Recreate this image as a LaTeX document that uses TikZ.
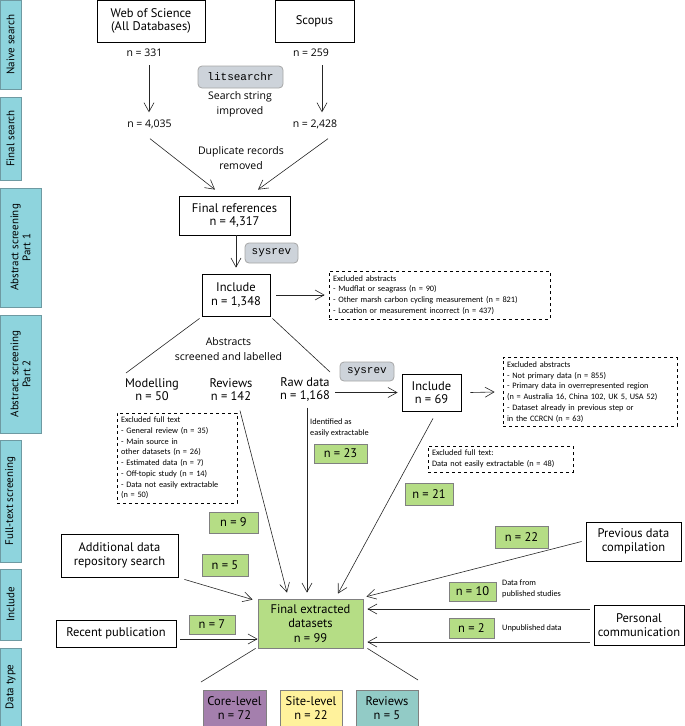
\documentclass[tikz,border=0pt]{standalone}
\usepackage{fontspec}
\setmainfont{Open Sans}
\newfontfamily\hand{PT Sans}
\newfontfamily\code{Liberation Mono}
\newfontfamily\notefont{Carlito}
\usetikzlibrary{arrows.meta}

\definecolor{barfill}{HTML}{8ED4DD}
\definecolor{barline}{HTML}{6E9AA2}
\definecolor{grn}{HTML}{B5DD85}
\definecolor{toolgray}{HTML}{CDD3DA}
\definecolor{corecol}{HTML}{A47FAD}
\definecolor{sitecol}{HTML}{FFF29C}
\definecolor{revcol}{HTML}{92CBC6}

\begin{document}
\begin{tikzpicture}[
			x=1pt, y=-1pt,
			every node/.style={inner sep=0pt, align=center},
			line/.style={line width=0.6pt, black!85},
			arr/.style={line, -{Straight Barb[length=9pt, width=10pt]}},
			box/.style={draw, line width=0.8pt, font=\hand\fontsize{12.5}{13.5}\selectfont},
			gbox/.style={box, draw=black!50, fill=grn},
			tool/.style={draw=black!35, line width=0.8pt, fill=toolgray, rounded corners=4pt, font=\code\fontsize{11}{12}\selectfont},
			xbox/.style={draw, dashed, line width=0.7pt, align=left, inner sep=4pt, font=\notefont\fontsize{8.3}{10.7}\selectfont},
			bar/.style={draw=barline, line width=0.8pt, fill=barfill, rotate=90, font=\hand\fontsize{11}{12}\selectfont},
			txt/.style={font=\fontsize{10.5}{14.5}\selectfont},
			hnd/.style={font=\hand\fontsize{12.5}{13}\selectfont},
			note/.style={align=left, font=\notefont\fontsize{8.3}{10.7}\selectfont}
		]

		\useasboundingbox (0,0) rectangle (685,726);

		% stage bars on the left
		\node[bar, minimum width=89pt, minimum height=21pt] (naive) at (10.5,44.5) {Naive search};
		\node[bar, minimum width=83pt, minimum height=21pt] (fsearch) at (10.5,138.5) {Final search};
		\node[bar, minimum width=119pt, minimum height=41pt] (abs1) at (20.5,247.5) {Abstract screening\\Part 1};
		\node[bar, minimum width=118pt, minimum height=41pt] (abs2) at (20.5,374) {Abstract screening\\Part 2};
		\node[bar, minimum width=122pt, minimum height=21pt] (ftext) at (10.5,501) {Full-text screening};
		\node[bar, minimum width=71pt, minimum height=21pt] (incl) at (10.5,604.5) {Include};
		\node[bar, minimum width=78pt, minimum height=21pt] (dtype) at (10.5,687) {Data type};

		% databases
		\node[box, minimum width=108pt, minimum height=42pt] (wos) at (151,21) {Web of Science\\(All Databases)};
		\node[box, minimum width=79pt, minimum height=42pt] (scopus) at (314.5,21) {Scopus};
		\node[txt] (n331) at (144.5,53) {n = 331};
		\node[txt] (n259) at (311,53) {n = 259};
		\node[tool, minimum width=85pt, minimum height=22pt] (lit) at (240.5,77) {litsearchr};
		\node[txt] (improved) at (240,104.5) {Search string\\improved};
		\node[txt] (n4035) at (149.5,124) {n = 4,035};
		\node[txt] (n2428) at (315,124) {n = 2,428};
		\node[txt] (dup) at (241,158) {Duplicate records\\removed};

		\draw[arr] ([xshift=4.5pt,yshift=-8pt]n331.south) -- ([xshift=-0.5pt,yshift=7pt]n4035.north);
		\draw[arr] ([xshift=11pt,yshift=-8pt]n259.south) -- ([xshift=7pt,yshift=7pt]n2428.north);

		% first screening
		\node[box, minimum width=111pt, minimum height=39pt] (fref) at (234.5,215.5) {Final references\\n = 4,317};
		\draw[arr] ([xshift=0.5pt,yshift=-10pt]n4035.south) -- ([xshift=-19.5pt,yshift=6pt]fref.north);
		\draw[arr] ([xshift=13pt,yshift=-10pt]n2428.south) -- ([xshift=23.5pt,yshift=6pt]fref.north);

		\node[tool, minimum width=53pt, minimum height=20pt] (sys1) at (271.5,253) {sysrev};
		\node[box, minimum width=68pt, minimum height=42pt] (inc1) at (236,295) {Include\\n = 1,348};
		\draw[arr] ([xshift=1.5pt]fref.south) -- ([yshift=6pt]inc1.north);

		\node[xbox, text width=213pt, minimum height=48pt] (exab1) at (439.5,295) {Excluded abstracts\\
			- Mudflat or seagrass (n = 90)\\
			- Other marsh carbon cycling measurement (n = 821)\\
			- Location or measurement incorrect (n = 437)};
		\draw[arr] ([xshift=6pt]inc1.east) -- ([xshift=-4pt]exab1.west);

		% labelled abstracts
		\node[txt] (labelled) at (228.5,349) {Abstracts\\screened and labelled};
		\coordinate (mtop) at (126,373);
		\coordinate (rtop) at (330,372);
		\draw[line] ([xshift=-2pt,yshift=-2pt]inc1.south west) -- (mtop);
		\draw[line] ([xshift=2pt,yshift=-2pt]inc1.south east) -- (rtop);

		\node[hnd] (model) at (152,389.5) {Modelling\\n = 50};
		\node[hnd] (reviews) at (231,389.5) {Reviews\\n = 142};
		\node[hnd] (rawdata) at (305,389.5) {Raw data\\n = 1,168};

		\node[xbox, text width=112pt, minimum height=90pt] (exft) at (177,458) {Excluded full text\\
			- General review (n = 35)\\
			- Main source in\\
			other datasets (n = 26)\\
			- Estimated data (n = 7)\\
			- Off-topic study (n = 14)\\
			- Data not easily extractable\\
			(n = 50)};

		\node[note, anchor=west] (ident) at (310,428) {Identified as\\easily extractable};
		\node[gbox, minimum width=53pt, minimum height=19pt] (g23) at (340.5,453.5) {n = 23};

		% second screening
		\node[tool, minimum width=54pt, minimum height=19pt] (sys2) at (367,371.5) {sysrev};
		\node[box, minimum width=59pt, minimum height=37pt] (inc2) at (431.5,392.5) {Include\\n = 69};
		\draw[arr] ([xshift=5pt,yshift=-3pt]rawdata.east) -- ([xshift=-4pt]inc2.west);

		\node[xbox, text width=166pt, minimum height=68pt] (exab2) at (590,392) {Excluded abstracts\\
			- Not primary data (n = 855)\\
			- Primary data in overrepresented region\\
			(n = Australia 16, China 102, UK 5, USA 52)\\
			- Dataset already in previous step or\\
			in the CCRCN (n = 63)};
		\draw[arr] ([xshift=9pt]inc2.east) -- ([xshift=-8pt]exab2.west);

		\node[xbox, text width=137pt, minimum height=26pt] (exft2) at (500.5,459) {Excluded full text:\\
			Data not easily extractable (n = 48)};
		\node[gbox, minimum width=48pt, minimum height=22pt] (g21) at (429,494) {n = 21};

		% other sources
		\node[gbox, minimum width=49pt, minimum height=21pt] (g9) at (233.5,522.5) {n = 9};
		\node[box, minimum width=117pt, minimum height=43pt] (addrepo) at (119.5,555.5) {Additional data\\repository search};
		\node[gbox, minimum width=46pt, minimum height=22pt] (g5) at (225,565) {n = 5};
		\node[box, minimum width=120pt, minimum height=27pt] (recent) at (116,633.5) {Recent publication};
		\node[gbox, minimum width=46pt, minimum height=19pt] (g7) at (212,624.5) {n = 7};

		\node[gbox, minimum width=53pt, minimum height=22pt] (g22) at (521.5,537) {n = 22};
		\node[box, minimum width=95pt, minimum height=39pt] (prev) at (633.5,541.5) {Previous data\\compilation};
		\node[gbox, minimum width=47pt, minimum height=19pt] (g10) at (472.5,591.5) {n = 10};
		\node[note, anchor=west] (pub) at (502,589) {Data from\\published studies};
		\node[box, minimum width=90pt, minimum height=40pt] (pers) at (639,625) {Personal\\communication};
		\node[gbox, minimum width=45pt, minimum height=20pt] (g2) at (471.5,628) {n = 2};
		\node[note, anchor=west] (unpub) at (502,628) {Unpublished data};

		% final datasets
		\node[gbox, minimum width=105pt, minimum height=49pt, font=\hand\fontsize{12.5}{14.5}\selectfont] (fin) at (310.5,623.5) {Final extracted\\datasets\\n = 99};

		\draw[arr] ([xshift=9pt,yshift=-10pt]reviews.south) -- ([xshift=-23.5pt,yshift=6pt]fin.north);
		\draw[arr] ([xshift=2pt,yshift=-6pt]rawdata.south) -- ([xshift=-3.5pt,yshift=6pt]fin.north);
		\draw[arr] ([xshift=1.5pt,yshift=-7pt]inc2.south) -- ([xshift=27.5pt,yshift=5pt]fin.north);
		\draw[arr] ([xshift=6pt,yshift=-2pt]addrepo.south east) -- ([xshift=-5pt,yshift=-1pt]fin.north west);
		\draw[arr] ([xshift=4pt,yshift=-5.5pt]recent.east) -- ([yshift=-15.5pt]fin.west);
		\draw[arr] ([xshift=-4pt]prev.west) -- ([xshift=3pt,yshift=2pt]fin.north east);
		\draw[arr] ([xshift=-4pt,yshift=16pt]pers.west) -- ([xshift=4pt,yshift=14.5pt]fin.east);
		\draw[arr] ([xshift=-4pt,yshift=-17pt]pers.west) -- ([xshift=4pt,yshift=-18.5pt]fin.east);

		% data types
		\coordinate (ctop) at (201,682);
		\coordinate (vtop) at (418,680);
		\draw[line] ([xshift=-2pt]fin.south west) -- (ctop);
		\draw[line] ([xshift=4pt]fin.south east) -- (vtop);

		\node[box, draw=black!50, fill=corecol, minimum width=63pt, minimum height=36pt] (core) at (234.5,708) {Core-level\\n = 72};
		\node[box, draw=black!50, fill=sitecol, minimum width=62pt, minimum height=36pt] (site) at (311,708) {Site-level\\n = 22};
		\node[box, draw=black!50, fill=revcol, minimum width=62pt, minimum height=36pt] (rev) at (387,708) {Reviews\\n = 5};

	\end{tikzpicture}
\end{document}
